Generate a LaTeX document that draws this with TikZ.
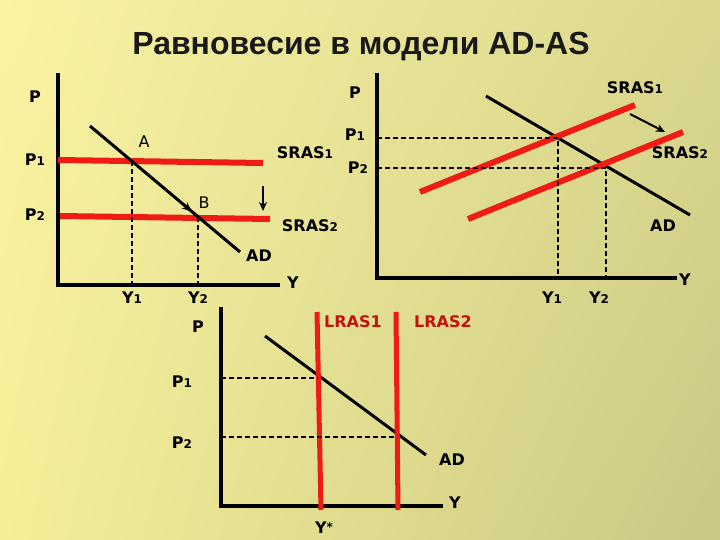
\documentclass[tikz,border=0pt]{standalone}
\usepackage{fontspec}
\setmainfont{DejaVu Sans}
\newfontfamily\titlefont{Liberation Sans}
\usetikzlibrary{arrows.meta,decorations.markings,shadings}
\definecolor{bgUL}{HTML}{F9F3A2}
\definecolor{bgUR}{HTML}{DAD78D}
\definecolor{bgLL}{HTML}{F4EE98}
\definecolor{bgLR}{HTML}{C9C884}
\definecolor{srasred}{HTML}{EE1C14}
\definecolor{lrastext}{HTML}{C4120E}
\newcommand{\sub}[2]{#1{\fontsize{12}{12}\selectfont#2}}
\tikzset{
  axis/.style={line width=4pt,line join=miter},
  adline/.style={line width=3pt},
  supply/.style={line width=6pt,color=srasred},
  guide/.style={dash pattern=on 5pt off 3pt,line width=2.2pt},
  lbl/.style={font=\bfseries\fontsize{16}{16}\selectfont,inner sep=0pt},
  pt/.style={font=\fontsize{16}{16}\selectfont,inner sep=0pt},
}
\begin{document}
\begin{tikzpicture}[x=1pt,y=-1pt]
\shade[upper left=bgUL,upper right=bgUR,lower left=bgLL,lower right=bgLR] (0,0) rectangle (720,540);
\useasboundingbox (0,0) rectangle (720,540);
\node[font=\titlefont\bfseries\fontsize{32}{32}\selectfont,text=black!90] (title) at (361,47) {Равновесие в модели AD-AS};

% left panel: SRAS shifts down
\draw[axis] (58,73) -- (58,285) -- (280,285);
\coordinate (lA) at (132,161);
\coordinate (lB) at (198,217);
\draw[supply] (58,160) -- (263,163);
\draw[supply] (60,216) -- (270,219);
\draw[adline,decoration={markings,mark=at position 0.68 with {\arrow{Stealth[length=10pt,width=8pt]}}},postaction={decorate}] (90,126) -- (240,252);
\draw[guide] (lA) -- (132,285);
\draw[guide] (lB) -- (198,285);
\draw[line width=2pt,-{Stealth[length=9pt,width=8pt]}] (263,186) -- (263,211);
\node[lbl] (lP) at (35,97) {P};
\node[lbl] (lP1) at (35,160) {\sub{P}{1}};
\node[lbl] (lP2) at (35,215) {\sub{P}{2}};
\node[pt] (lAl) at (144,142) {A};
\node[pt] (lBl) at (204,203) {B};
\node[lbl] (lS1) at (305,153) {\sub{SRAS}{1}};
\node[lbl] (lS2) at (310,226) {\sub{SRAS}{2}};
\node[lbl] (lAD) at (259,256) {AD};
\node[lbl] (lY) at (293,283) {Y};
\node[lbl] (lY1) at (132,298) {\sub{Y}{1}};
\node[lbl] (lY2) at (198,298) {\sub{Y}{2}};

% right panel: SRAS shifts right
\draw[axis] (377,73) -- (377,278) -- (677,278);
\coordinate (rA) at (558,138);
\coordinate (rB) at (606,168);
\draw[adline] (486,96) -- (690,215);
\draw[supply] (420,192) -- (635,105);
\draw[supply] (468,219) -- (683,132);
\draw[guide] (377,138) -- (rA) -- (558,278);
\draw[guide] (377,168) -- (rB) -- (606,278);
\draw[line width=2pt,-{Stealth[length=9pt,width=8pt]}] (630,114) -- (665,132);
\node[lbl] (rP) at (355,93) {P};
\node[lbl] (rP1) at (355,135) {\sub{P}{1}};
\node[lbl] (rP2) at (358,168) {\sub{P}{2}};
\node[lbl] (rS1) at (635,88) {\sub{SRAS}{1}};
\node[lbl] (rS2) at (680,153) {\sub{SRAS}{2}};
\node[lbl] (rAD) at (663,226) {AD};
\node[lbl] (rY) at (685,280) {Y};
\node[lbl] (rY1) at (552,298) {\sub{Y}{1}};
\node[lbl] (rY2) at (599,298) {\sub{Y}{2}};

% bottom panel: LRAS
\draw[axis] (221,307) -- (221,506) -- (443,506);
\draw[adline] (265,336) -- (426,455);
\draw[supply,line width=5pt] (317,312) -- (321,510);
\draw[supply,line width=5pt] (396,312) -- (398,510);
\draw[guide] (221,378) -- (318,378);
\draw[guide] (221,437) -- (397,437);
\node[lbl] (bP) at (198,327) {P};
\node[lbl] (bP1) at (182,382) {\sub{P}{1}};
\node[lbl] (bP2) at (182,443) {\sub{P}{2}};
\node[lbl,text=lrastext] (bL1) at (353,322) {LRAS1};
\node[lbl,text=lrastext] (bL2) at (443,322) {LRAS2};
\node[lbl] (bAD) at (452,460) {AD};
\node[lbl] (bY) at (455,503) {Y};
\node[lbl] (bYs) at (324,528) {Y\raisebox{2pt}{\fontsize{12}{12}\selectfont*}};
\end{tikzpicture}
\end{document}
